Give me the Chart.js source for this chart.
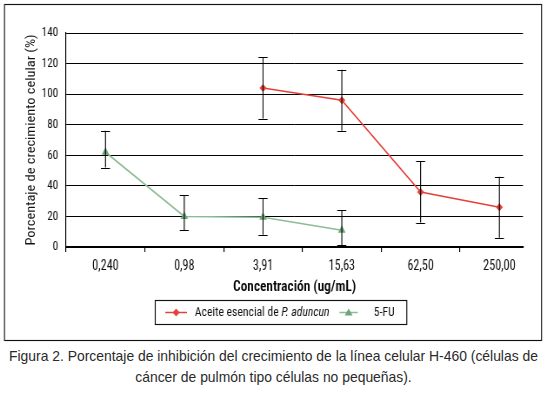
<!DOCTYPE html>
<html><head><meta charset="utf-8">
<script src="https://cdn.jsdelivr.net/npm/chart.js@4"></script>
<style>
html,body{margin:0;padding:0;background:#fff;overflow:hidden;}
#outer{width:547px;height:345px;overflow:hidden;}
#wrap{position:relative;width:629px;height:345px;transform:scaleX(0.86963);transform-origin:0 0;}
#cap{font-family:"Liberation Sans",Arial,sans-serif;font-size:13.9px;color:#2a2a2a;text-align:center;line-height:21px;margin-top:1px;width:547px;}
</style></head><body>
<div id="outer"><div id="wrap"><canvas id="c" width="629" height="345"></canvas></div></div>
<div id="cap">Figura 2. Porcentaje de inhibición del crecimiento de la línea celular H-460 (células de<br>cáncer de pulmón tipo células no pequeñas).</div>
<script>
const categories = ['0,240','0,98','3,91','15,63','62,50','250,00'];
const aceite = [null,null,104,96,36,26];
const aceiteHigh = [null,null,124,116,56,46];
const aceiteLow = [null,null,84,76,16,6];
const fu = [62,20,19.5,11,null,null];
const fuHigh = [76,34,32,24,null,null];
const fuLow = [52,11,8,1,null,null];
const aceiteLabelPlain = 'Aceite esencial de ';
const aceiteLabelItalic = 'P. aduncun';
const fuLabel = '5-FU';
const xTitle = 'Concentración (ug/mL)';
const yTitle = 'Porcentaje de crecimiento celular (%)';

const RED = '#e3423a', GREEN_LINE = '#8dbb95', GREEN = '#6fa37a';
const K = 547/629; // horizontal squash of the figure

const mctx = document.createElement('canvas').getContext('2d');
function has(f){
  mctx.font='40px monospace'; const a=mctx.measureText('Porcentaje de crecimiento').width;
  mctx.font='40px "'+f+'", monospace'; const b=mctx.measureText('Porcentaje de crecimiento').width;
  return Math.abs(a-b)>0.5;
}
let FONT='"Liberation Sans",Arial,sans-serif';
for (const f of ['Liberation Sans Narrow','Arial Narrow','Roboto Condensed','DejaVu Sans Condensed']) {
  if (has(f)) { FONT='"'+f+'","Liberation Sans",sans-serif'; break; }
}
function fit(text,target,style){
  mctx.font=(style||'')+' 20px '+FONT;
  const w=mctx.measureText(text).width;
  return Math.round(20*target/w*10)/10;
}
const TS = Math.min(14, fit('250,00',33/K));
const TYS = Math.min(13, fit('140',17/K));
const TY = Math.min(15, fit(yTitle,212));
const TX = Math.min(16, fit(xTitle,123/K,'600'));
function legendSize(){
  mctx.font='20px '+FONT; const a=mctx.measureText(aceiteLabelPlain).width;
  mctx.font='italic 20px '+FONT; const b=mctx.measureText(aceiteLabelItalic).width;
  return Math.min(14, Math.round(20*(135/K)/(a+b)*10)/10);
}
const LS = legendSize();

function pts(vals){ const o=[]; vals.forEach((v,i)=>{ if(v!==null) o.push({x:i,y:v}); }); return o; }

const errorBars = {
  id:'errorBars',
  afterDatasetsDraw(chart){
    const ctx=chart.ctx, ys=chart.scales.y, xs=chart.scales.x;
    const sets=[[aceite,aceiteHigh,aceiteLow],[fu,fuHigh,fuLow]];
    ctx.save(); ctx.strokeStyle='#000'; ctx.lineWidth=1.1;
    sets.forEach(([v,h,l])=>{
      v.forEach((val,i)=>{
        if(val===null) return;
        const x=xs.getPixelForValue(i);
        const y1=ys.getPixelForValue(h[i]), y2=ys.getPixelForValue(l[i]);
        ctx.beginPath();
        ctx.moveTo(x,y1); ctx.lineTo(x,y2);
        ctx.moveTo(x-5.2,Math.round(y1)+0.5); ctx.lineTo(x+5.2,Math.round(y1)+0.5);
        ctx.moveTo(x-5.2,Math.round(y2)+0.5); ctx.lineTo(x+5.2,Math.round(y2)+0.5);
        ctx.stroke();
      });
    });
    ctx.restore();
  }
};

const frame = {
  id:'frame',
  afterDraw(chart){
    const ctx=chart.ctx;
    ctx.save();
    ctx.strokeStyle='#111'; ctx.lineWidth=1.15;
    ctx.strokeRect(5.2,4.5,617.5,336);
    // legend (measured layout, centred at reference x=281)
    ctx.font=LS+'px '+FONT;
    const w1=ctx.measureText(aceiteLabelPlain).width;
    const w3=ctx.measureText(fuLabel).width;
    ctx.font='italic '+LS+'px '+FONT;
    const w2=ctx.measureText(aceiteLabelItalic).width;
    const padL=11.5,s1=25,g1=9,g2=11.5,s2=21,g3=18.5,padR=14;
    const total=padL+s1+g1+w1+w2+g2+s2+g3+w3+padR;
    const bx=281/K-total/2, by=300, bh=24, cy=312.5;
    ctx.strokeRect(bx,by+0.5,total,bh);
    let x=bx+padL;
    ctx.lineWidth=1.5;
    ctx.strokeStyle=RED; ctx.beginPath(); ctx.moveTo(x,cy); ctx.lineTo(x+s1,cy); ctx.stroke();
    const mx=x+s1/2;
    ctx.fillStyle=RED; ctx.beginPath(); ctx.moveTo(mx,cy-4); ctx.lineTo(mx+4,cy); ctx.lineTo(mx,cy+4); ctx.lineTo(mx-4,cy); ctx.closePath(); ctx.fill();
    x+=s1+g1;
    ctx.fillStyle='#111'; ctx.textBaseline='middle'; ctx.textAlign='left';
    ctx.font=LS+'px '+FONT; ctx.fillText(aceiteLabelPlain,x,cy); x+=w1;
    ctx.font='italic '+LS+'px '+FONT; ctx.fillText(aceiteLabelItalic,x,cy); x+=w2+g2;
    ctx.strokeStyle=GREEN_LINE; ctx.beginPath(); ctx.moveTo(x,cy); ctx.lineTo(x+s2,cy); ctx.stroke();
    const gx=x+s2/2;
    ctx.fillStyle=GREEN; ctx.beginPath(); ctx.moveTo(gx,cy-4); ctx.lineTo(gx+4.5,cy+3); ctx.lineTo(gx-4.5,cy+3); ctx.closePath(); ctx.fill();
    x+=s2+g3;
    ctx.fillStyle='#111'; ctx.font=LS+'px '+FONT; ctx.fillText(fuLabel,x,cy);
    ctx.restore();
  }
};

new Chart(document.getElementById('c'),{
  type:'line',
  data:{datasets:[
    {label:aceiteLabelPlain+aceiteLabelItalic,data:pts(aceite),borderColor:RED,backgroundColor:RED,borderWidth:1.6,
     pointStyle:'rectRot',pointRadius:4,pointBorderWidth:0,pointBackgroundColor:RED,tension:0},
    {label:fuLabel,data:pts(fu),borderColor:GREEN_LINE,backgroundColor:GREEN,borderWidth:1.6,
     pointStyle:'triangle',pointRadius:5,pointBorderWidth:0,pointBackgroundColor:GREEN,tension:0}
  ]},
  options:{
    responsive:false,animation:false,devicePixelRatio:1,
    layout:{padding:{left:24,top:33,right:27.6,bottom:45}},
    plugins:{legend:{display:false},tooltip:{enabled:false}},
    scales:{
      x:{type:'linear',min:-0.5,max:5.3,
        afterBuildTicks(s){ s.ticks=categories.map((c,i)=>({value:i})); },
        afterFit(s){ s.height=53; },
        ticks:{callback:(v)=>categories[v]??'',color:'#111',font:{family:FONT,size:TS},padding:6,maxRotation:0,autoSkip:false},
        grid:{display:true,drawOnChartArea:false,drawTicks:true,tickLength:5,color:'#000',lineWidth:1.15,offset:true},
        border:{display:true,color:'#000',width:2},
        title:{display:true,text:xTitle,color:'#000',font:{family:FONT,size:TX,weight:'600'},padding:{top:2,bottom:4}}
      },
      y:{min:0,max:140,
        afterBuildTicks(s){ s.ticks=[0,20,40,60,80,100,120,140].map(v=>({value:v})); },
        afterFit(s){ s.width=52; },
        ticks:{color:'#111',font:{family:FONT,size:TYS},padding:9},
        grid:{color:'#000',lineWidth:1,drawTicks:false},
        border:{display:true,color:'#000',width:1.15},
        title:{display:true,text:yTitle,color:'#111',font:{family:FONT,size:TY},padding:{top:4,bottom:4}}
      }
    }
  },
  plugins:[errorBars,frame]
});
</script>
</body></html>
